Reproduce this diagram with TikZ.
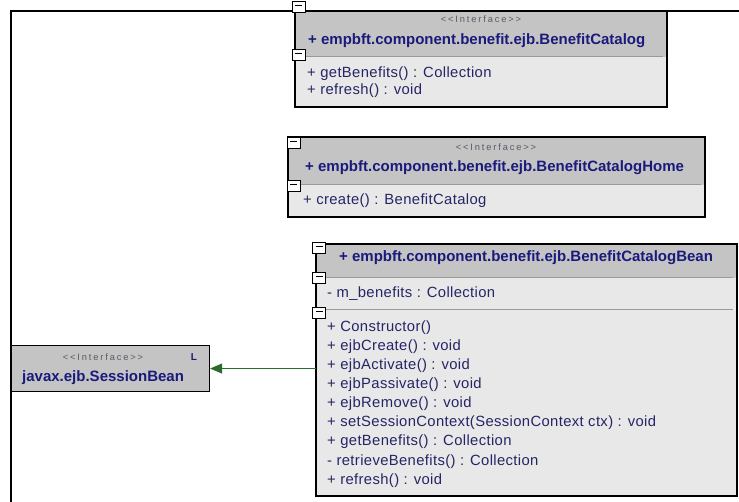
\documentclass[tikz,border=0pt]{standalone}
\usepackage{fontspec}
\usetikzlibrary{arrows.meta}
\newfontfamily\mfont{Liberation Sans}[LetterSpace=2.5]
\newfontfamily\nfont{Liberation Sans}
\newfontfamily\stfont{Liberation Sans}[LetterSpace=20]
\definecolor{hdrc}{HTML}{C4C4C4}
\definecolor{bodyc}{HTML}{E8E8E8}
\definecolor{sepc}{HTML}{9A9A9A}
\definecolor{ncol}{HTML}{1A1A7C}
\definecolor{mcol}{HTML}{252566}
\definecolor{stcol}{HTML}{5A5A66}
\definecolor{arrc}{HTML}{2D6A2D}
\tikzset{
  umlbox/.style n args={3}{draw=black, line width=1.1pt, fill=bodyc,
    minimum width=#1, minimum height=#2, anchor=north west, inner sep=0pt, outer sep=0pt,
    path picture={\fill[hdrc] (path picture bounding box.north west) rectangle ([yshift=-#3]path picture bounding box.north east);
      \draw[sepc, line width=1pt] ([yshift=-#3]path picture bounding box.north west) -- ([yshift=-#3, xshift=-4pt]path picture bounding box.north east);}},
  minusbox/.style={draw=black, fill=white, line width=0.8pt, minimum width=13, minimum height=11, inner sep=0pt,
    path picture={\draw[line width=0.8pt] ([xshift=3pt,yshift=-4pt]path picture bounding box.north west) -- ([xshift=-3pt,yshift=-4pt]path picture bounding box.north east);}},
  mtext/.style={font=\mfont\fontsize{14.8}{16}\selectfont, text=mcol, inner sep=0pt, anchor=base west},
  cname/.style={font=\nfont\bfseries\fontsize{15}{17}\selectfont, text=ncol, inner sep=0pt, anchor=base west},
  stereo/.style={font=\stfont\fontsize{9.3}{10}\selectfont, text=stcol, inner sep=0pt, anchor=base},
  frameline/.style={draw=black, line width=2pt},
  sepline/.style={draw=sepc, line width=1pt},
  genarrow/.style={draw=arrc, line width=1pt, -{Triangle[length=12pt,width=10pt]}},
}
\begin{document}
\begin{tikzpicture}[x=1pt,y=-1pt]
\useasboundingbox (0,0) rectangle (739,502);
\fill[white] (0,0) rectangle (739,502);
% outer frame
\draw[frameline] (11,502) -- (11,11) -- (739,11);

% BenefitCatalog
\node[umlbox={372}{96}{46}] (bc) at (295,11) {};
\node[stereo] (bc-st) at (481,23) {<<Interface>>};
\node[cname] (bc-n) at (308,45) {+ empbft.component.benefit.ejb.BenefitCatalog};
\node[mtext] (bc-1) at (307,78) {+ getBenefits() : Collection};
\node[mtext] (bc-2) at (307,95) {+ refresh() : void};
\node[minusbox] (bc-m1) at (298.5,7) {};
\node[minusbox] (bc-m2) at (298.5,55) {};

% BenefitCatalogHome
\node[umlbox={417}{80}{48}] (bch) at (288,137) {};
\node[stereo] (bch-st) at (496,151) {<<Interface>>};
\node[cname] (bch-n) at (305,172) {+ empbft.component.benefit.ejb.BenefitCatalogHome};
\node[mtext] (bch-1) at (303,205) {+ create() : BenefitCatalog};
\node[minusbox] (bch-m1) at (293.5,142.5) {};
\node[minusbox] (bch-m2) at (293.5,185.5) {};

% BenefitCatalogBean
\node[umlbox={421}{252}{34}] (bean) at (316,244) {};
\draw[sepline] (317,310) -- (733,310);
\node[cname] (bean-n) at (339,262) {+ empbft.component.benefit.ejb.BenefitCatalogBean};
\node[mtext] (bean-a) at (327,298) {- m\_benefits : Collection};
\node[mtext] (bean-1) at (327,332) {+ Constructor()};
\node[mtext] (bean-2) at (327,351) {+ ejbCreate() : void};
\node[mtext] (bean-3) at (327,370) {+ ejbActivate() : void};
\node[mtext] (bean-4) at (327,389) {+ ejbPassivate() : void};
\node[mtext] (bean-5) at (327,408) {+ ejbRemove() : void};
\node[mtext] (bean-6) at (327,427) {+ setSessionContext(SessionContext ctx) : void};
\node[mtext] (bean-7) at (327,446) {+ getBenefits() : Collection};
\node[mtext] (bean-8) at (327,465) {- retrieveBenefits() : Collection};
\node[mtext] (bean-9) at (327,484) {+ refresh() : void};
\node[minusbox] (bean-m1) at (319,247.5) {};
\node[minusbox] (bean-m2) at (319,278) {};
\node[minusbox] (bean-m3) at (319,312.5) {};

% SessionBean
\node[draw=black, line width=1.1pt, fill=hdrc, minimum width=198, minimum height=46, anchor=north west, inner sep=0pt] (sb) at (11,345) {};
\node[stereo] (sb-st) at (103,361) {<<Interface>>};
\node[font=\nfont\bfseries\fontsize{10}{11}\selectfont, text=ncol, inner sep=0pt, anchor=base] (sb-l) at (194,361) {L};
\node[cname] (sb-n) at (22,382) {javax.ejb.SessionBean};

% generalization
\draw[genarrow] (bean.west |- sb.east) -- (sb.east);
\end{tikzpicture}
\end{document}
